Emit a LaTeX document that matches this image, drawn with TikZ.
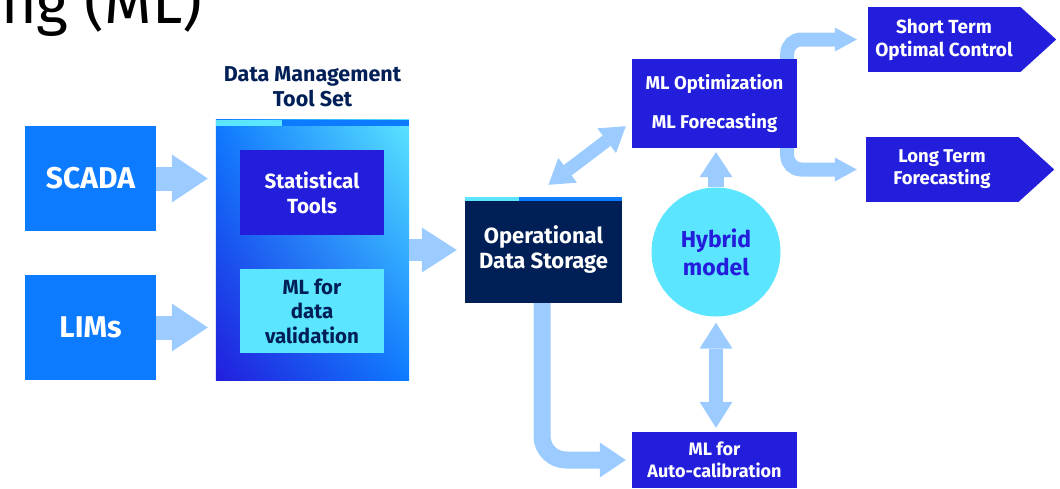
\documentclass[tikz,border=0pt]{standalone}
\usepackage{fontspec}
\setmainfont{Fira Sans}
\usetikzlibrary{arrows.meta, calc, shadings}
\definecolor{awsblue}{RGB}{13,123,255}
\definecolor{awsindigo}{RGB}{35,30,220}
\definecolor{awscyan}{RGB}{92,229,255}
\definecolor{awsnavy}{RGB}{0,31,86}
\definecolor{flowblue}{RGB}{156,204,255}

\begin{document}
\begin{tikzpicture}[x=1pt, y=-1pt,
  box/.style={rectangle, inner sep=0pt, align=center, text=white},
  flow/.style n args={3}{draw=flowblue, line width=#1, -{Triangle[width=#2, length=#3, line width=0pt]}},
  dflow/.style n args={3}{draw=flowblue, line width=#1, {Triangle[width=#2, length=#3, line width=0pt]}-{Triangle[width=#2, length=#3, line width=0pt]}}]

\useasboundingbox (0,0) rectangle (1060,488);
\node[anchor=base west, inner sep=0pt, font=\fontsize{61}{61}\selectfont] (heading) at (1,23) {ng (ML)};

% sources
\node[box, fill=awsblue, minimum width=131pt, minimum height=105pt, font=\fontsize{30}{34}\selectfont\bfseries] (scada) at (90.5,178.5) {SCADA};
\node[box, fill=awsblue, minimum width=131pt, minimum height=105pt, font=\fontsize{30}{34}\selectfont\bfseries] (lims) at (90.5,327.5) {LIMs};

% data management tool set
\node[box, minimum width=193pt, minimum height=260pt] (dm) at (312.5,250) {};
\shade[upper left=awsblue, upper right=awscyan, lower left=awsindigo, lower right=awsblue] (dm.south west) rectangle (dm.north east);
\fill[awsblue] (dm.north west) rectangle ++(193,6);
\fill[awscyan] (dm.north west) rectangle ++(66,6);
\node[box, text=awsnavy, font=\fontsize{21.5}{25}\selectfont\bfseries] (dmtitle) at (312.5,87) {Data Management\\Tool Set};
\node[box, fill=awsindigo, minimum width=144pt, minimum height=85pt, font=\fontsize{20.5}{25}\selectfont\bfseries] (stats) at (312,192.5) {Statistical\\Tools};
\node[box, fill=awscyan, text=awsnavy, minimum width=144pt, minimum height=84pt, font=\fontsize{20.5}{24.5}\selectfont\bfseries] (mlval) at (312,311) {ML for\\data\\validation};

% storage and models
\node[box, fill=awsnavy, minimum width=157pt, minimum height=106pt, font=\fontsize{22}{25}\selectfont\bfseries] (ods) at (543.5,250) {Operational\\Data Storage};
\fill[awsblue] (ods.north west) rectangle ++(157,4);
\fill[awscyan] (ods.north west) rectangle ++(54,4);
\node[box, fill=awsindigo, minimum width=165pt, minimum height=89pt, font=\fontsize{18.5}{39}\selectfont\bfseries] (mlopt) at (714.5,103.5) {ML Optimization\\ML Forecasting};
\node[circle, inner sep=0pt, minimum size=129pt, fill=awscyan, text=awsindigo, align=center, font=\fontsize{23}{28}\selectfont\bfseries] (hybrid) at (716,252) {Hybrid\\model};
\node[box, fill=awsindigo, minimum width=165pt, minimum height=56pt, font=\fontsize{18}{22}\selectfont\bfseries] (autocal) at (714.5,460) {ML for\\Auto-calibration};

% outputs
\node[box, fill=awsindigo, minimum width=152pt, minimum height=65pt, font=\fontsize{19}{23}\selectfont\bfseries] (short) at (944,39.5) {Short Term\\Optimal Control};
\fill[awsindigo] (short.north east) -- ([xshift=36pt]short.east) -- (short.south east) -- cycle;
\node[box, fill=awsindigo, minimum width=152pt, minimum height=65pt, font=\fontsize{18.5}{22}\selectfont\bfseries] (long) at (942,169.5) {Long Term\\Forecasting};
\fill[awsindigo] (long.north east) -- ([xshift=36pt]long.east) -- (long.south east) -- cycle;

% connectors
\draw[flow={24pt}{48pt}{36pt}, shorten >=8pt] (scada.east) -- (scada.east -| dm.west);
\draw[flow={24pt}{48pt}{36pt}, shorten >=8pt] (lims.east) -- (lims.east -| dm.west);
\draw[flow={22pt}{45pt}{35pt}, shorten >=8pt] (dm.east) -- (dm.east -| ods.west);
\draw[dflow={13pt}{31pt}{24pt}] ([shift={(5,-12)}]ods.north) -- ([shift={(-6,-22)}]mlopt.south west);
\draw[flow={16pt}{33pt}{25pt}, shorten >=4pt] (hybrid.north) -- (hybrid.north |- mlopt.south);
\draw[dflow={14pt}{33pt}{26pt}, shorten <=6pt, shorten >=4pt] (hybrid.south) -- (hybrid.south |- autocal.north);
\draw[flow={17pt}{35pt}{26pt}, rounded corners=24pt, shorten >=6pt] ([xshift=-1.5pt]ods.south) |- (autocal.west);
\draw[flow={14pt}{24pt}{22pt}, rounded corners=14pt, shorten >=11pt] ([xshift=-10pt]mlopt.north east) |- (short.west);
\draw[flow={14pt}{24pt}{22pt}, rounded corners=14pt, shorten >=9pt] ([xshift=-10pt]mlopt.south east) |- (long.west);

\end{tikzpicture}
\end{document}
